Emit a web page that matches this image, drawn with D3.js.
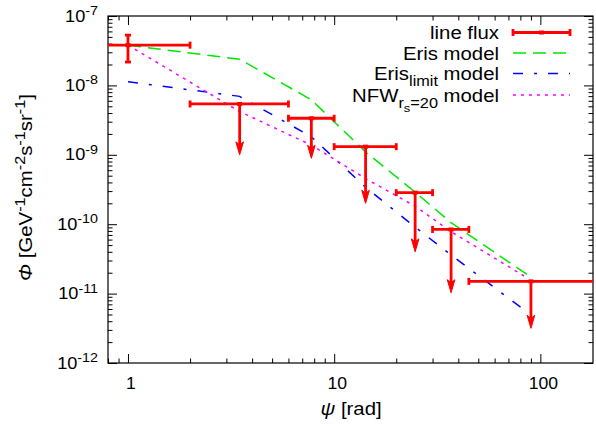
<!DOCTYPE html>
<html>
<head>
<meta charset="utf-8">
<script src="https://cdn.jsdelivr.net/npm/d3@7"></script>
<style>
  html, body { margin: 0; padding: 0; background: #fff; }
  text { white-space: pre; }
</style>
</head>
<body>
<svg id="chart" width="596" height="426"></svg>
<script>
// ---- data -------------------------------------------------------------
// angular bins (centre, lower edge, upper edge) in rad
const psiCenter = [1, 3.48, 7.75, 14.2, 24.7, 36.9, 90];
const psiLow    = [0.5, 2, 6, 10, 20, 30, 45];
const psiHigh   = [2, 6, 10, 20, 30, 45, 250];

// measured line flux: first bin is a detection, the rest are upper limits
const fluxValue  = [3.8e-8, 5.4e-9, 3.36e-9, 1.31e-9, 2.85e-10, 8.4e-11, 1.5e-11];
const fluxLower  = [2.17e-8, 1.0e-9, 8.9e-10, 2.0e-10, 4.0e-11, 1.03e-11, 3.16e-12];
const fluxUpper  = [5.3e-8, null, null, null, null, null, null];
const upperLimit = [false, true, true, true, true, true, true];

// model predictions
const modelPsi   = [1, 3.48, 7.75, 14.2, 24.7, 36.9, 87];
const erisModel  = [3.8e-8, 2.38e-8, 6.2e-9, 1.1e-9, 2.9e-10, 1.05e-10, 1.85e-11];
const erisLimit  = [1.13e-8, 6.95e-9, 1.82e-9, 3.4e-10, 9.1e-11, 3.6e-11, 5.3e-12];
const nfwModel   = [3.8e-8, 4.2e-9, 1.38e-9, 4.55e-10, 1.82e-10, 7.8e-11, 1.66e-11];

// axis ticks
const xTickValues = [1, 10, 100];
const xTickLabels = ["1", "10", "100"];
const yTickExponents = [-12, -11, -10, -9, -8, -7];

// ---- layout ------------------------------------------------------------
const FONT = "'Liberation Sans', Arial, Helvetica, sans-serif";
const SX = 1.1;           // horizontal text stretch
const plotL = 108, plotR = 593, plotT = 16, plotB = 363;

const svg = d3.select("#chart");
svg.append("rect").attr("width", 596).attr("height", 426).attr("fill", "#fff");

const x = d3.scaleLog().domain([0.8, 180]).range([plotL, plotR]);
const y = d3.scaleLog().domain([1e-12, 1e-7]).range([plotB, plotT]);

const isMajor = v => Math.abs(Math.log10(v) - Math.round(Math.log10(v))) < 1e-6;
const xMinor = x.ticks().filter(v => !isMajor(v));
const yMinor = y.ticks().filter(v => !isMajor(v));
const yMajor = yTickExponents.map(e => Math.pow(10, e));

// rich text helper: segments with size and baseline offset
function richText(parent, px, py, anchor, segments, rotate) {
  const g = parent.append("g")
    .attr("transform", `translate(${px},${py})` + (rotate ? ` rotate(${rotate})` : "") + ` scale(${SX},1)`);
  const t = g.append("text")
    .attr("text-anchor", anchor)
    .attr("font-family", FONT)
    .attr("fill", "#000");
  let cur = 0;
  segments.forEach(s => {
    const off = s.shift || 0;
    t.append("tspan")
      .attr("dy", off - cur)
      .attr("font-size", s.size)
      .attr("font-style", s.italic ? "italic" : null)
      .text(s.text);
    cur = off;
  });
  return t;
}

// ---- axes (ticks inward, mirrored) -------------------------------------
function tickAxis(axisFn, scale, values, size, transform) {
  const g = svg.append("g").attr("transform", transform)
    .call(axisFn(scale).tickValues(values).tickSizeInner(size).tickSizeOuter(0).tickFormat(""));
  g.select(".domain").remove();
  g.selectAll(".tick line").attr("stroke", "#000").attr("stroke-width", 1);
  return g;
}
const MAJ = 9, MIN = 4.5;
tickAxis(d3.axisBottom, x, xTickValues, -MAJ, `translate(0,${plotB})`);
tickAxis(d3.axisBottom, x, xMinor, -MIN, `translate(0,${plotB})`);
tickAxis(d3.axisTop, x, xTickValues, -MAJ, `translate(0,${plotT})`);
tickAxis(d3.axisTop, x, xMinor, -MIN, `translate(0,${plotT})`);
tickAxis(d3.axisLeft, y, yMajor, -MAJ, `translate(${plotL},0)`);
tickAxis(d3.axisLeft, y, yMinor, -MIN, `translate(${plotL},0)`);
tickAxis(d3.axisRight, y, yMajor, -MAJ, `translate(${plotR},0)`);
tickAxis(d3.axisRight, y, yMinor, -MIN, `translate(${plotR},0)`);

svg.append("rect")
  .attr("x", plotL).attr("y", plotT)
  .attr("width", plotR - plotL).attr("height", plotB - plotT)
  .attr("fill", "none").attr("stroke", "#000").attr("stroke-width", 1.2);

// tick labels
xTickValues.forEach((v, i) => {
  richText(svg, x(v) + 3, 389, "middle", [{ text: xTickLabels[i], size: 16 }]);
});
yTickExponents.forEach(e => {
  richText(svg, 98, y(Math.pow(10, e)) + 5.5, "end", [
    { text: "10", size: 16.5 },
    { text: "-" + Math.abs(e), size: 13, shift: -6.5 }
  ]);
});

// axis titles
richText(svg, 351, 415, "middle", [
  { text: "ψ", size: 18.5, italic: true },
  { text: " [rad]", size: 18.5 }
]);
const SUP = { size: 14.8, shift: -7 };
richText(svg, 32, (plotT + plotB) / 2 - 2, "middle", [
  { text: "Φ", size: 18.5, italic: true },
  { text: " [GeV", size: 18.5 },
  { text: "-1", ...SUP },
  { text: "cm", size: 18.5 },
  { text: "-2", ...SUP },
  { text: "s", size: 18.5 },
  { text: "-1", ...SUP },
  { text: "sr", size: 18.5 },
  { text: "-1", ...SUP },
  { text: "]", size: 18.5 }
], -90);

// ---- plot area ---------------------------------------------------------
svg.append("clipPath").attr("id", "plot-clip")
  .append("rect").attr("x", plotL).attr("y", plotT)
  .attr("width", plotR - plotL).attr("height", plotB - plotT);
const plot = svg.append("g").attr("clip-path", "url(#plot-clip)");

const RED = "#ff0000", GREEN = "#00e600", BLUE = "#0000ff", MAGENTA = "#ff00ff";
const models = [
  { values: erisModel, color: GREEN, dash: "13,7" },
  { values: erisLimit, color: BLUE, dash: "10,11,3,11" },
  { values: nfwModel, color: MAGENTA, dash: "3,5" }
];
const lineGen = d3.line().x(d => x(d[0])).y(d => y(d[1]));
models.forEach(m => {
  plot.append("path")
    .datum(modelPsi.map((p, i) => [p, m.values[i]]))
    .attr("d", lineGen)
    .attr("fill", "none")
    .attr("stroke", m.color)
    .attr("stroke-width", 1.5)
    .attr("stroke-dasharray", m.dash);
});

// line flux points
const RW = 2.8, CAP = 3.5;
const arrowHead = "M0,0 L-3.8,-13 L0,-10 L3.8,-13 Z";
psiCenter.forEach((c, i) => {
  const g = plot.append("g").attr("stroke", RED).attr("stroke-width", RW).attr("fill", RED);
  const cy = y(fluxValue[i]);
  // horizontal bin extent with caps
  g.append("line").attr("x1", x(psiLow[i])).attr("x2", x(psiHigh[i])).attr("y1", cy).attr("y2", cy);
  [psiLow[i], psiHigh[i]].forEach(e => {
    g.append("line").attr("x1", x(e)).attr("x2", x(e)).attr("y1", cy - CAP).attr("y2", cy + CAP);
  });
  g.append("rect").attr("x", x(c) - 2.5).attr("y", cy - 2).attr("width", 5).attr("height", 4).attr("stroke", "none");
  if (upperLimit[i]) {
    const tip = y(fluxLower[i]);
    g.append("line").attr("x1", x(c)).attr("x2", x(c)).attr("y1", cy).attr("y2", tip - 4);
    g.append("path").attr("d", arrowHead).attr("transform", `translate(${x(c)},${tip})`)
      .attr("stroke-width", 1).attr("stroke-linejoin", "miter");
  } else {
    const y1 = y(fluxLower[i]), y2 = y(fluxUpper[i]);
    g.append("line").attr("x1", x(c)).attr("x2", x(c)).attr("y1", y1).attr("y2", y2);
    [y1, y2].forEach(v => {
      g.append("line").attr("x1", x(c) - 3).attr("x2", x(c) + 3).attr("y1", v).attr("y2", v);
    });
  }
});

// ---- legend ------------------------------------------------------------
const LEG_TEXT_X = 499, LEG_X1 = 513, LEG_X2 = 570;
const legendRows = [
  { y: 32.5, segs: [{ text: "line flux", size: 18.5 }], kind: "flux" },
  { y: 53, segs: [{ text: "Eris model", size: 18.5 }], model: models[0] },
  { y: 73.5, segs: [
      { text: "Eris", size: 18.5 },
      { text: "limit", size: 14.8, shift: 6 },
      { text: " model", size: 18.5 }
    ], model: models[1] },
  { y: 95, segs: [
      { text: "NFW", size: 18.5 },
      { text: "r", size: 14.8, shift: 6 },
      { text: "s", size: 11.8, shift: 10.5 },
      { text: "=20", size: 14.8, shift: 6 },
      { text: " model", size: 18.5 }
    ], model: models[2] }
];
const legend = svg.append("g");
legendRows.forEach(r => {
  richText(legend, LEG_TEXT_X, r.y + 6.5, "end", r.segs);
  if (r.kind === "flux") {
    const g = legend.append("g").attr("stroke", RED).attr("stroke-width", RW);
    g.append("line").attr("x1", LEG_X1).attr("x2", LEG_X2).attr("y1", r.y).attr("y2", r.y);
    [LEG_X1, LEG_X2].forEach(e => g.append("line").attr("x1", e).attr("x2", e).attr("y1", r.y - CAP).attr("y2", r.y + CAP));
    g.append("rect").attr("x", (LEG_X1 + LEG_X2) / 2 - 2.5).attr("y", r.y - 2).attr("width", 5).attr("height", 4)
      .attr("fill", RED).attr("stroke", "none");
  } else {
    legend.append("line").attr("x1", LEG_X1).attr("x2", LEG_X2).attr("y1", r.y).attr("y2", r.y)
      .attr("stroke", r.model.color).attr("stroke-width", 1.5).attr("stroke-dasharray", r.model.dash);
  }
});
</script>
</body>
</html>
